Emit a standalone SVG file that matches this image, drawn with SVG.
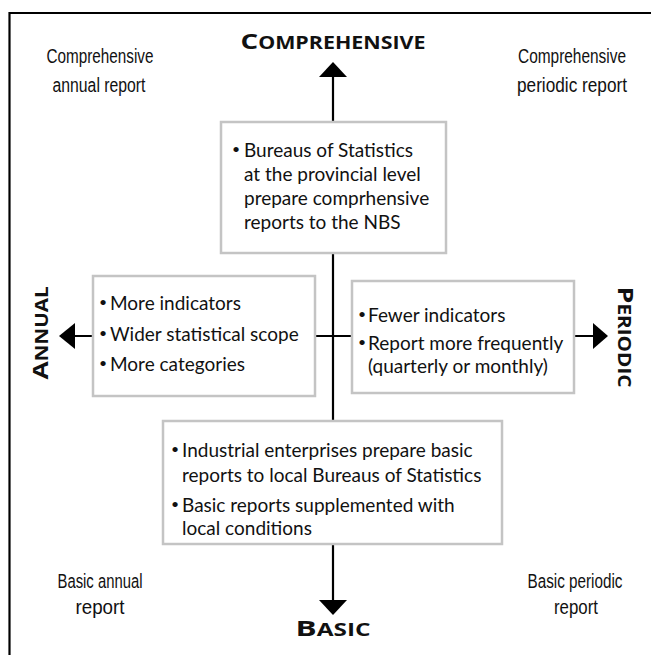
<svg xmlns="http://www.w3.org/2000/svg" width="651" height="655" viewBox="0 0 651 655">
<defs>
<style>
.frame{stroke:#000;stroke-width:2.2;fill:none}
.axis{stroke:#000;stroke-width:2.2;fill:none}
.head{fill:#000}
.box{fill:#fff;stroke:#c4c4c4;stroke-width:2.5}
.t{font-family:Lato,"Open Sans","Liberation Sans",sans-serif;font-size:19px;fill:#111}
.b{font-family:Lato,"Open Sans","Liberation Sans",sans-serif;font-size:14px;fill:#111}
.c{font-family:"Liberation Sans",Arial,sans-serif;font-size:20px;fill:#111;text-anchor:middle}
.ax{font-family:"Open Sans","Liberation Sans",sans-serif;font-weight:bold;font-size:17px;fill:#111;text-anchor:middle}
.big{font-size:22px}
</style>
</defs>
<rect width="651" height="655" fill="#fff"/>
<g id="frame">
<line class="frame" x1="9" y1="13" x2="651" y2="13"/>
<line class="frame" x1="9.5" y1="12" x2="9.5" y2="655"/>
</g>
<g id="connectors">
<line class="axis" x1="333" y1="76" x2="333" y2="601"/>
<line class="axis" x1="74" y1="336" x2="594" y2="336"/>
<polygon class="head" points="333,62 319,77 347,77"/>
<polygon class="head" points="333,615 319,600 347,600"/>
<polygon class="head" points="59,336 75,323 75,349"/>
<polygon class="head" points="608,336 593,323 593,349"/>
</g>
<g id="label-comprehensive">
<text class="ax" x="333" y="49" textLength="185" lengthAdjust="spacingAndGlyphs"><tspan class="big">C</tspan>OMPREHENSIVE</text>
</g>
<g id="label-basic">
<text class="ax" x="333" y="636" textLength="75" lengthAdjust="spacingAndGlyphs"><tspan class="big">B</tspan>ASIC</text>
</g>
<g id="label-annual">
<text class="ax" transform="translate(48,333) rotate(-90)" x="0" y="0" textLength="93" lengthAdjust="spacingAndGlyphs"><tspan class="big">A</tspan>NNUAL</text>
</g>
<g id="label-periodic">
<text class="ax" transform="translate(618,337) rotate(90)" x="0" y="0" textLength="101" lengthAdjust="spacingAndGlyphs"><tspan class="big">P</tspan>ERIODIC</text>
</g>
<g id="corner-tl">
<text class="c" x="100" y="63" textLength="107" lengthAdjust="spacingAndGlyphs">Comprehensive</text>
<text class="c" x="99" y="92" textLength="93" lengthAdjust="spacingAndGlyphs">annual report</text>
</g>
<g id="corner-tr">
<text class="c" x="572" y="63" textLength="108" lengthAdjust="spacingAndGlyphs">Comprehensive</text>
<text class="c" x="572" y="92" textLength="110" lengthAdjust="spacingAndGlyphs">periodic report</text>
</g>
<g id="corner-bl">
<text class="c" x="100" y="588" textLength="85" lengthAdjust="spacingAndGlyphs">Basic annual</text>
<text class="c" x="100" y="614" textLength="49" lengthAdjust="spacingAndGlyphs">report</text>
</g>
<g id="corner-br">
<text class="c" x="575" y="588" textLength="95" lengthAdjust="spacingAndGlyphs">Basic periodic</text>
<text class="c" x="576" y="614" textLength="44" lengthAdjust="spacingAndGlyphs">report</text>
</g>
<g id="box-top">
<rect class="box" x="221" y="122" width="225" height="131"/>
<text class="b" x="232" y="154">•</text>
<text class="t" x="244" y="157">Bureaus of Statistics</text>
<text class="t" x="244" y="181">at the provincial level</text>
<text class="t" x="244" y="205">prepare comprhensive</text>
<text class="t" x="244" y="229">reports to the NBS</text>
</g>
<g id="box-left">
<rect class="box" x="93" y="276" width="222" height="120"/>
<text class="b" x="99" y="307">•</text>
<text class="t" x="110" y="310">More indicators</text>
<text class="b" x="99" y="338">•</text>
<text class="t" x="110" y="341">Wider statistical scope</text>
<text class="b" x="99" y="368">•</text>
<text class="t" x="110" y="371">More categories</text>
</g>
<g id="box-right">
<rect class="box" x="352" y="281" width="222" height="112"/>
<text class="b" x="358" y="319">•</text>
<text class="t" x="368" y="322">Fewer indicators</text>
<text class="b" x="358" y="347">•</text>
<text class="t" x="368" y="350">Report more frequently</text>
<text class="t" x="368" y="373">(quarterly or monthly)</text>
</g>
<g id="box-bottom">
<rect class="box" x="163" y="421" width="339" height="123"/>
<text class="b" x="171" y="454">•</text>
<text class="t" x="182" y="457">Industrial enterprises prepare basic</text>
<text class="t" x="182" y="482">reports to local Bureaus of Statistics</text>
<text class="b" x="171" y="509">•</text>
<text class="t" x="182" y="512">Basic reports supplemented with</text>
<text class="t" x="182" y="535">local conditions</text>
</g>
</svg>
